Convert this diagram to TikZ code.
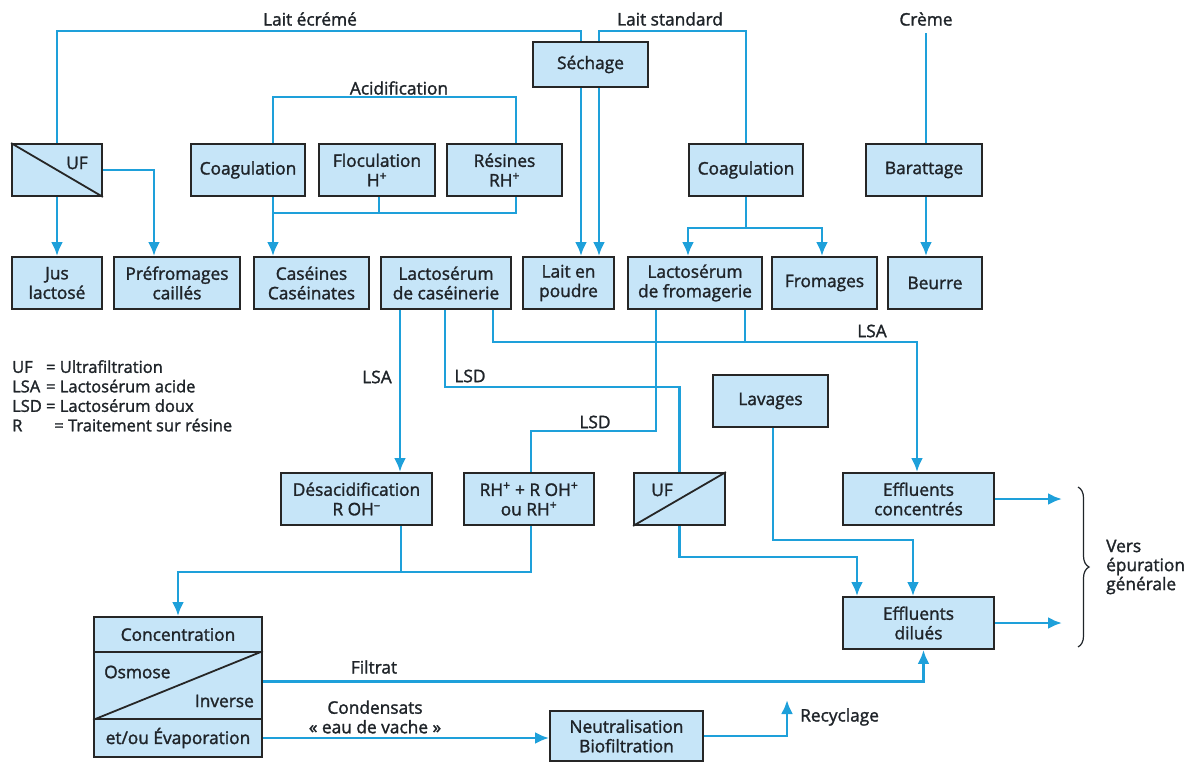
\documentclass[tikz,border=0pt]{standalone}
\usepackage{fontspec}
\setmainfont{Open Sans}[FakeBold=1.6]
\usetikzlibrary{arrows.meta,decorations.pathreplacing}

\newcommand{\boxFont}{\fontsize{17.3}{19.5}\selectfont}

\begin{document}
\begin{tikzpicture}[x=1pt, y=-1pt,
    box/.style={draw=boxLine, fill=boxFill, line width=1.8pt, minimum height=52,
        inner sep=0, align=center, text=ink, font=\boxFont},
    txt/.style={text=ink, font=\boxFont, inner sep=0},
    flow/.style={draw=flowColour, line width=2.8pt},
    arr/.style={flow, -{Latex[length=14pt,width=12pt]}}]
    % Define colours
    \definecolor{boxFill}{HTML}{C6E5F8}
    \definecolor{boxLine}{HTML}{262626}
    \definecolor{flowColour}{HTML}{1EA0DA}
    \definecolor{ink}{HTML}{1F2429}

    % Page size
    \useasboundingbox (0,0) rectangle (1199,764);

    % Levels of the routed lines
    \coordinate (yLait) at (0,31);
    \coordinate (yAcid) at (0,97);
    \coordinate (yFloc) at (0,213);
    \coordinate (yCoag) at (0,228);
    \coordinate (yLSA) at (0,342);
    \coordinate (yLSD) at (0,387);
    \coordinate (yLSDb) at (0,431);
    \coordinate (yLav) at (0,540);
    \coordinate (yUF) at (0,557);
    \coordinate (yConc) at (0,572);

    % First row of operations
    \node[box, minimum width=90] (ufA) at (57,170) {};
    \node[txt] (ufALbl) at (77,163) {UF};
    \node[box, minimum width=114] (coagA) at (248,170) {Coagulation};
    \node[box, minimum width=116] (flocu) at (377,170) {Floculation\\H\textsuperscript{+}};
    \node[box, minimum width=115] (resin) at (504.5,170) {Résines\\RH\textsuperscript{+}};
    \node[box, minimum width=115, minimum height=45] (sechage) at (590.5,64.5) {Séchage};
    \node[box, minimum width=114] (coagB) at (746,170) {Coagulation};
    \node[box, minimum width=116] (baratt) at (924,170) {Barattage};

    % Products
    \node[box, minimum width=90] (jus) at (57,283) {Jus\\lactosé};
    \node[box, minimum width=126] (prefro) at (177,283) {Préfromages\\caillés};
    \node[box, minimum width=115] (casein) at (311.5,283) {Caséines\\Caséinates};
    \node[box, minimum width=130] (lsCas) at (446,283) {Lactosérum\\de caséinerie};
    \node[box, minimum width=91] (poudre) at (568.5,283) {Lait en\\poudre};
    \node[box, minimum width=134] (lsFro) at (695,283) {Lactosérum\\de fromagerie};
    \node[box, minimum width=105] (fromages) at (824.5,283) {Fromages};
    \node[box, minimum width=94] (beurre) at (935,283) {Beurre};

    % Treatment of the whey
    \node[box, minimum width=115] (lavages) at (770.5,401) {Lavages};
    \node[box, minimum width=151] (desacid) at (356.5,499) {Désacidification\\R OH\textsuperscript{--}};
    \node[box, minimum width=130] (resMix) at (529,499) {RH\textsuperscript{+} + R OH\textsuperscript{+}\\ou RH\textsuperscript{+}};
    \node[box, minimum width=91] (ufB) at (679.5,499) {};
    \node[txt] (ufBLbl) at (662,490) {UF};
    \node[box, minimum width=151] (effConc) at (918.5,499) {Effluents\\concentrés};
    \node[box, minimum width=151] (effDil) at (918.5,623) {Effluents\\dilués};

    % Concentration
    \node[box, minimum width=168, minimum height=35] (concHead) at (178,634.5) {Concentration};
    \node[box, minimum width=168, minimum height=67] (concOsm) at (178,685.5) {};
    \node[box, minimum width=168, minimum height=38] (concEvap) at (178,738) {et/ou Évaporation};
    \node[txt, anchor=west] (osmLbl) at (104,672) {Osmose};
    \node[txt, anchor=east] (invLbl) at (254,701) {Inverse};
    \node[box, minimum width=153, minimum height=50] (neutral) at (626.5,736) {Neutralisation\\Biofiltration};

    % Membrane diagonals
    \draw[boxLine, line width=1.8pt] (ufA.north west) -- (ufA.south east);
    \draw[boxLine, line width=1.8pt] (ufB.south west) -- (ufB.north east);
    \draw[boxLine, line width=1.8pt] (concOsm.south west) -- (concOsm.north east);

    % Labels
    \node[txt] (ecremeLbl) at (310,19) {Lait écrémé};
    \node[txt] (standardLbl) at (670,19) {Lait standard};
    \node[txt] (cremeLbl) at (926,19) {Crème};
    \node[txt] (acidLbl) at (399,88) {Acidification};
    \node[txt] (lsaLbl) at (377,377) {LSA};
    \node[txt] (lsdLbl) at (470,376) {LSD};
    \node[txt] (lsdLblB) at (595,422) {LSD};
    \node[txt] (lsaLblB) at (872,331) {LSA};
    \node[txt] (filtratLbl) at (374,667) {Filtrat};
    \node[txt, align=center] (condLbl) at (375,717) {Condensats\\« eau de vache »};
    \node[txt, anchor=west] (recycLbl) at (800,717) {Recyclage};
    \node[txt, anchor=west, align=left, font=\fontsize{17.3}{19}\selectfont] (versLbl) at (1106,567) {Vers\\épuration\\générale};
    \node[txt, anchor=north west, align=left, font=\fontsize{16.5}{19.5}\selectfont] (legend) at (12,359) {%
        \begin{tabular}{@{}l@{ }l@{}}
        UF & = Ultrafiltration\\
        LSA & = Lactosérum acide\\
        LSD & = Lactosérum doux\\
        R & \hspace{0.5em}= Traitement sur résine
        \end{tabular}};

    % Milk supply
    \draw[flow] (ufA.north) -- (ufA.north |- yLait) -| ([xshift=-9.5]sechage.north);
    \draw[flow] ([xshift=8.5]sechage.north) |- (coagB.north |- yLait) -- (coagB.north);
    \draw[flow] (cremeLbl.south |- 0,33) -- (baratt.north -| cremeLbl.south);

    % Upper processes
    \draw[arr] (ufA.south) -- (jus.north);
    \draw[arr] (ufA.east) -| ([xshift=-23]prefro.north);
    \draw[flow] ([xshift=25]coagA.north) |- ([xshift=11.5]resin.north |- yAcid) -- ([xshift=11.5]resin.north);
    \draw[arr] ([xshift=25]coagA.south) -- ([xshift=25]coagA.south |- casein.north);
    \draw[flow] ([xshift=11.5]resin.south) |- ([xshift=25]coagA.south |- yFloc);
    \draw[flow] ([xshift=2]flocu.south) -- ([xshift=2]flocu.south |- yFloc);
    \draw[arr] ([xshift=-9.5]sechage.south) -- ([xshift=-9.5]sechage.south |- poudre.north);
    \draw[arr] ([xshift=8.5]sechage.south) -- ([xshift=8.5]sechage.south |- poudre.north);
    \draw[flow] (coagB.south) -- (coagB.south |- yCoag);
    \draw[arr] (coagB.south |- yCoag) -| ([xshift=-7]lsFro.north);
    \draw[arr] (coagB.south |- yCoag) -| ([xshift=-2.5]fromages.north);
    \draw[arr] (baratt.south -| cremeLbl.south) -- (beurre.north -| cremeLbl.south);

    % Whey
    \draw[arr] ([xshift=-46]lsCas.south) -- ([xshift=-46]lsCas.south |- desacid.north);
    \draw[flow] ([xshift=-1]lsCas.south) |- (ufB.north |- yLSD) -- (ufB.north);
    \draw[arr] ([xshift=47]lsCas.south) |- ([xshift=-1.5]effConc.north |- yLSA) -- ([xshift=-1.5]effConc.north);
    \draw[flow] ([xshift=50]lsFro.south) -- ([xshift=50]lsFro.south |- yLSA);
    \draw[flow] ([xshift=-39]lsFro.south) |- ([xshift=2]resMix.north |- yLSDb) -- ([xshift=2]resMix.north);

    % To concentration
    \draw[flow] ([xshift=44.5]desacid.south) -- ([xshift=44.5]desacid.south |- yConc);
    \draw[arr] ([xshift=2]resMix.south) |- (concHead.north |- yConc) -- (concHead.north);

    % Effluents
    \draw[arr] (ufB.south) |- ([xshift=-61.5]effDil.north |- yUF) -- ([xshift=-61.5]effDil.north);
    \draw[arr] ([xshift=2.5]lavages.south) |- ([xshift=-5.5]effDil.north |- yLav) -- ([xshift=-5.5]effDil.north);
    \coordinate (outC) at (1062,499);
    \coordinate (outD) at (1062,623);
    \draw[arr] (effConc.east) -- (outC);
    \draw[arr] (effDil.east) -- (outD);
    \draw[arr] ([yshift=4]concOsm.east) -| ([xshift=5]effDil.south);
    \draw[arr] (concEvap.east) -- (concEvap.east -| neutral.west);
    \coordinate (recyc) at (787,700);
    \draw[arr] (neutral.east) -| (recyc);

    % Brace
    \coordinate (braceTop) at (1078,487);
    \coordinate (braceBot) at (1078,647);
    \draw[ink, line width=1.2pt, decorate, decoration={brace, amplitude=11pt}] (braceTop) -- (braceBot);

\end{tikzpicture}
\end{document}
